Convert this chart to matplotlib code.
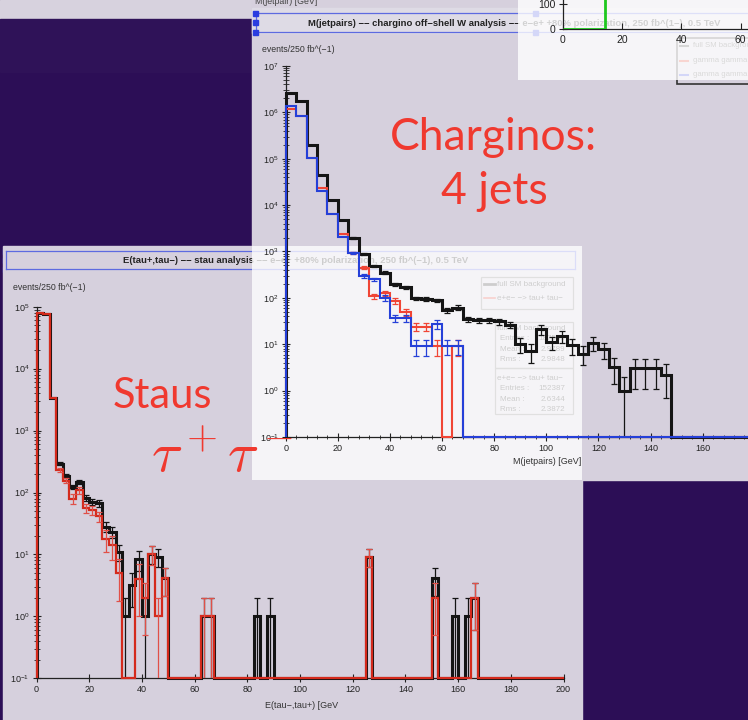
import numpy as np
import matplotlib
matplotlib.use('Agg')
import matplotlib.pyplot as plt
from matplotlib.patches import Rectangle
from matplotlib.ticker import FixedLocator, LogLocator, NullFormatter, MultipleLocator

plt.rcParams['font.family'] = ['Liberation Sans', 'DejaVu Sans']
plt.rcParams['mathtext.fontset'] = 'custom'
plt.rcParams['mathtext.rm'] = 'Liberation Sans'
plt.rcParams['mathtext.it'] = 'Liberation Sans:italic'
plt.rcParams['mathtext.bf'] = 'Liberation Sans:bold'

W, H = 748, 720

# --- chargino plot: M(jetpairs), 4 GeV bins, events / 250 fb^-1
jet_edges = np.arange(0, 204, 4)
jet_sm = [2.6e6, 1.8e6, 2.0e5, 4.5e4, 1.3e4, 4.8e3, 1.95e3, 870, 490, 350,
          195, 170, 97, 94, 88, 54, 62, 35, 33, 33,
          31, 26, 10, 7, 21, 11, 15, 9.5, 6.3, 10.5,
          7.8, 3.2, 1.0, 3, 3, 3, 2.2]
jet_sm_err = [0, 0, 0, 0, 0, 0, 100, 50, 30, 22,
              14, 12, 8, 8, 8, 6, 7, 4.5, 4.5, 4.5,
              4.5, 4, 3.5, 3, 5, 3.5, 4.5, 3.5, 2.8, 3.5,
              3, 1.8, 1.0, 1.9, 1.9, 1.9, 1.5]
jet_red = [1.2e6, 8.3e5, 1.05e5, 2.3e4, 6.5e3, 2.4e3, 930, 450, 110, 125,
           86, 49, 24, 24, 9, 0, 9]
jet_red_err = [0, 0, 0, 0, 0, 0, 60, 40, 14, 16, 12, 8, 5, 5, 3.5, 0, 3.5]
jet_blue = [1.4e6, 8.3e5, 1.05e5, 2.0e4, 6.5e3, 2.1e3, 930, 296, 250, 100,
            36, 36, 9, 9, 27, 9.3, 9.3]
jet_blue_err = [0, 0, 0, 0, 0, 0, 60, 25, 22, 14, 6, 6, 3.3, 3.3, 6, 3.3, 3.3]
jet_decades = list(range(-1, 8))
jet_xticks = list(range(0, 220, 20))

# --- stau plot: E(tau-,tau+), 2.5 GeV bins
tau_edges = np.arange(0, 202.5, 2.5)
tau_sm = [7.8e4, 7.5e4, 3.4e3, 290, 185, 123, 150, 81, 71, 67,
          28, 23, 11, 1, 3.2, 8.3, 1, 10.3, 9.2, 4.1,
          0, 0, 0, 0, 0, 1, 1, 0, 0, 0,
          0, 0, 0, 1, 0, 1, 0, 0, 0, 0,
          0, 0, 0, 0, 0, 0, 0, 0, 0, 0,
          9.2, 0, 0, 0, 0, 0, 0, 0, 0, 0,
          4.1, 0, 0, 1, 0, 1, 2]
tau_sm_err = [0, 0, 0, 17, 14, 11, 12, 9, 8.5, 8,
              5.3, 4.8, 3.3, 1, 1.8, 2.9, 1, 3.2, 3, 2,
              0, 0, 0, 0, 0, 1, 1, 0, 0, 0,
              0, 0, 0, 1, 0, 1, 0, 0, 0, 0,
              0, 0, 0, 0, 0, 0, 0, 0, 0, 0,
              3, 0, 0, 0, 0, 0, 0, 0, 0, 0,
              2, 0, 0, 1, 0, 1, 1.4]
tau_sig = [7.8e4, 7.5e4, 3.3e3, 230, 155, 79, 110, 56, 52, 41,
           18, 14, 5.1, 0, 0, 4.0, 2.0, 10.3, 1.0, 4.1,
           0, 0, 0, 0, 0, 1, 1, 0, 0, 0,
           0, 0, 0, 0, 0, 0, 0, 0, 0, 0,
           0, 0, 0, 0, 0, 0, 0, 0, 0, 0,
           9.2, 0, 0, 0, 0, 0, 0, 0, 0, 0,
           2.0, 0, 0, 0, 0, 0, 2.0]
tau_sig_err = [0, 0, 0, 18, 15, 14, 14, 9, 8, 7,
               7, 6, 3.3, 0, 0, 3, 1.5, 3.5, 1, 2,
               0, 0, 0, 0, 0, 1, 1, 0, 0, 0,
               0, 0, 0, 0, 0, 0, 0, 0, 0, 0,
               0, 0, 0, 0, 0, 0, 0, 0, 0, 0,
               3, 0, 0, 0, 0, 0, 0, 0, 0, 0,
               1.5, 0, 0, 0, 0, 0, 1.4]
tau_decades = list(range(-1, 6))
tau_xticks = list(range(0, 220, 20))

# --- the cut-off plot in the top right corner
mini_edges = [0, 14.3, 20]
mini_counts = [0, 1000]
mini_xticks = [0, 20, 40, 60, 80]
mini_yticks = [0, 100]

stat_rows = [('full SM background', ''), ('Entries :', '187530'), ('Mean :', '2.9789'), ('Rms :', '2.9848'),
             ('e+e− −> tau+ tau−', ''), ('Entries :', '152387'), ('Mean :', '2.6344'), ('Rms :', '2.3872')]

fig = plt.figure(figsize=(W / 100, H / 100), dpi=100)
fig.patch.set_facecolor('#2c0e56')


def px_axes(left, top, right, bottom, z):
    ax = fig.add_axes([left / W, 1 - bottom / H, (right - left) / W, (bottom - top) / H])
    ax.set_zorder(z)
    ax.patch.set_alpha(0)
    return ax


def canvas(z):
    ax = px_axes(0, 0, W, H, z)
    ax.set_xlim(0, W)
    ax.set_ylim(H, 0)
    ax.axis('off')
    return ax


def padded(vals, n):
    out = np.zeros(n)
    out[:len(vals)] = vals
    return out


def draw_hist(ax, edges, vals, errs, color, lw, ecolor, elw, cap, z):
    n = len(edges) - 1
    v = padded(vals, n)
    e = padded(errs, n)
    ymin = ax.get_ylim()[0]
    ax.stairs(np.maximum(v, ymin), edges, baseline=ymin, color=color, lw=lw,
              zorder=z, clip_on=False, joinstyle='miter')
    centers = 0.5 * (edges[1:] + edges[:-1])
    m = (v > 0) & (e > 0)
    ax.errorbar(centers[m], v[m], yerr=e[m], fmt='none', ecolor=ecolor, elinewidth=elw,
                capsize=cap, capthick=elw, zorder=z + 0.1)


def root_style(ax, decades, xticks):
    for s in ['top', 'right']:
        ax.spines[s].set_visible(False)
    for s in ['left', 'bottom']:
        ax.spines[s].set_color('#222222')
        ax.spines[s].set_linewidth(0.9)
    ax.yaxis.set_major_locator(FixedLocator([10.0 ** k for k in decades]))
    ax.set_yticklabels([r'$10^{%d}$' % k for k in decades])
    ax.yaxis.set_minor_locator(LogLocator(subs=np.arange(2, 10), numticks=40))
    ax.yaxis.set_minor_formatter(NullFormatter())
    ax.set_xticks(xticks)
    ax.set_xticklabels([str(t) for t in xticks])
    ax.tick_params(axis='both', which='major', direction='inout', length=6, width=0.8,
                   labelsize=6.5, colors='#222222', pad=2)
    ax.tick_params(axis='y', which='minor', direction='inout', length=4, width=0.6, colors='#222222')
    ax.tick_params(axis='x', which='minor', direction='inout', length=2.5, width=0.6, colors='#222222')


def handle(ax, x, y, alpha=1.0):
    ax.add_patch(Rectangle((x - 2.5, y - 2.5), 5, 5, color='#2b3de0', alpha=alpha, zorder=3))


# ---------- background slide pieces
bg = canvas(0)
bg.add_patch(Rectangle((0, 0), W, 19, color='#d7d2de', zorder=0))
bg.add_patch(Rectangle((0, 19), 252, 53, color='#2f1258', zorder=0))
bg.add_patch(Rectangle((252, 0), W - 252, 480, color='#d6d0dd', zorder=1))
bg.add_patch(Rectangle((252, 8), W - 252, 25, color='#dedbe5', zorder=1))
bg.text(255, 2, 'M(jetpair) [GeV]', fontsize=6.3, color='#444444', ha='left', va='center', zorder=2)

# chargino title bar
for yy in (13.3, 32):
    bg.plot([256, W], [yy, yy], color='#5d6ae0', lw=0.9, zorder=2)
bg.plot([256, 256], [13.3, 32], color='#5d6ae0', lw=0.9, zorder=2)
for xx, yy in [(256, 13.3), (256, 22.7), (256, 32), (536, 13.3), (536, 32)]:
    handle(bg, xx, yy)
bg.text(308, 23, 'M(jetpairs) −− chargino off−shell W analysis −− e−e+ +80% polarization, 250 fb^(1−), 0.5 TeV',
        fontsize=6.8, fontweight='bold', color='#222222', ha='left', va='center', zorder=3)
bg.text(262, 49, 'events/250 fb^(−1)', fontsize=6.3, color='#333333', ha='left', va='center', zorder=3)

# stau panel
bg.add_patch(Rectangle((3, 246), 579, H - 246, color='#d6d0dd', zorder=4))
for yy in (251, 269):
    bg.plot([6, 575], [yy, yy], color='#5d6ae0', lw=0.9, zorder=5)
for xx in (6, 575):
    bg.plot([xx, xx], [251, 269], color='#5d6ae0', lw=0.9, zorder=5)
for xx, yy in [(6, 251), (6, 260), (6, 269), (290.5, 251), (290.5, 269), (575, 251), (575, 260), (575, 269)]:
    handle(bg, xx, yy)
bg.text(296, 260.5, 'E(tau+,tau−) −− stau analysis −− e−e+ +80% polarization, 250 fb^(−1), 0.5 TeV',
        fontsize=6.8, fontweight='bold', color='#222222', ha='center', va='center', zorder=6)
bg.text(13, 287, 'events/250 fb^(−1)', fontsize=6.3, color='#333333', ha='left', va='center', zorder=6)
bg.text(338.5, 706, 'E(tau−,tau+) [GeV', fontsize=6.5, color='#333333', ha='right', va='center', zorder=6)

# stau legend and stat boxes (later washed out by the overlay)
bg.add_patch(Rectangle((481, 276.7), 92, 32.3, fill=False, ec='#777777', lw=0.9, zorder=6))
bg.plot([484, 495], [284, 284], color='#222222', lw=2, zorder=6)
bg.plot([484, 495], [298.3, 298.3], color='#e03020', lw=1.2, zorder=6)
bg.text(497.5, 284, 'full SM background', fontsize=5.8, color='#222222', ha='left', va='center', zorder=6)
bg.text(497.5, 298.3, 'e+e− −> tau+ tau−', fontsize=5.8, color='#222222', ha='left', va='center', zorder=6)
bg.add_patch(Rectangle((495.5, 321.7), 78, 46.3, fill=False, ec='#777777', lw=0.9, zorder=6))
bg.add_patch(Rectangle((495.5, 368), 78, 46, fill=False, ec='#777777', lw=0.9, zorder=6))
for i, (lab, val) in enumerate(stat_rows):
    yy = 328.5 + 10.4 * i + (8.5 if i >= 4 else 0)
    if val:
        bg.text(500, yy, lab, fontsize=5.8, color='#222222', ha='left', va='center', zorder=6)
        bg.text(565, yy, val, fontsize=5.8, color='#222222', ha='right', va='center', zorder=6)
    else:
        bg.text(497, yy, lab, fontsize=5.8, color='#222222', ha='left', va='center', zorder=6)

# legend of the cut-off top right plot
bg.add_patch(Rectangle((677, 38), 100, 46.3, fill=False, ec='#333333', lw=1.2, zorder=6))
for yy, col, lab in [(45.7, '#333333', 'full SM background'), (61, '#e03020', 'gamma gamma −> hadrons'),
                     (75, '#2b3de0', 'gamma gamma −> hadrons')]:
    bg.plot([680, 688], [yy, yy], color=col, lw=1.5, zorder=6)
    bg.text(692.7, yy, lab, fontsize=5.6, color='#444444', ha='left', va='center', zorder=6)

# ---------- stau histogram
sax = px_axes(36.5, 306.7, 563.5, 678.3, 1)
sax.set_yscale('log', nonpositive='clip')
sax.set_xlim(0, 200)
sax.set_ylim(0.1, 1e5)
root_style(sax, tau_decades, tau_xticks)
draw_hist(sax, tau_edges, tau_sm, tau_sm_err, '#141414', 2.2, '#141414', 0.9, 2.5, 3)
draw_hist(sax, tau_edges, tau_sig, tau_sig_err, '#d42a1c', 1.6, '#e05048', 0.9, 2.5, 4)

# ---------- washed-out overlap region
ov = canvas(2)
ov.add_patch(Rectangle((252, 246), 330, 234, color='white', alpha=0.78, lw=0))

# ---------- chargino histogram
cax = px_axes(285.7, 66.0, 285.7 + 200 * 2.606, 437.0, 3)
cax.set_yscale('log', nonpositive='clip')
cax.set_xlim(0, 200)
cax.set_ylim(0.1, 1e7)
root_style(cax, jet_decades, jet_xticks)
cax.xaxis.set_minor_locator(MultipleLocator(4))
draw_hist(cax, jet_edges, jet_sm, jet_sm_err, '#151515', 2.2, '#151515', 0.9, 2.5, 3)
draw_hist(cax, jet_edges, jet_red, jet_red_err, '#f04535', 1.5, '#f04535', 0.9, 2.5, 4)
draw_hist(cax, jet_edges, jet_blue, jet_blue_err, '#2540d8', 1.5, '#2540d8', 0.9, 2.5, 5)
ov3 = canvas(3.5)
ov3.text(581, 462, 'M(jetpairs) [GeV]', fontsize=6.5, color='#333333', ha='right', va='center')

# ---------- washed-out top right corner plus its plot
ov2 = canvas(4)
ov2.add_patch(Rectangle((518, 0), W - 518, 80, color='white', alpha=0.8, lw=0))

mx0, my0 = 562.7, 29.3
max_ = px_axes(mx0, my0 - 150 * 0.2533, mx0 + 80 * 2.966, my0, 5)
max_.set_xlim(0, 80)
max_.set_ylim(0, 150)
max_.stairs(mini_counts, mini_edges, baseline=None, color='#1ec81e', lw=2, zorder=3)
for s in ['top', 'right']:
    max_.spines[s].set_visible(False)
for s in ['left', 'bottom']:
    max_.spines[s].set_color('#222222')
    max_.spines[s].set_linewidth(0.9)
max_.set_xticks(mini_xticks)
max_.set_yticks(mini_yticks)
max_.tick_params(axis='x', direction='in', length=4, width=0.8, labelsize=7.5, colors='#222222', pad=4)
max_.tick_params(axis='y', direction='inout', length=6, width=0.8, labelsize=7.5, colors='#222222', pad=2)

# ---------- big slide labels
top = canvas(10)
red = '#f0392f'
top.text(493, 150, 'Charginos:', fontsize=32, family='Lato', color=red, ha='center', va='baseline')
top.text(494, 204, '4 jets', fontsize=32, family='Lato', color=red, ha='center', va='baseline')
top.text(113, 408, 'Staus', fontsize=30, family='Lato', color=red, ha='left', va='baseline')
top.text(151, 471.7, r'$\tau^+\tau^-$', fontsize=41, color=red, math_fontfamily='cm', ha='left', va='baseline')

fig.savefig('out.png', dpi=100, facecolor=fig.get_facecolor())
